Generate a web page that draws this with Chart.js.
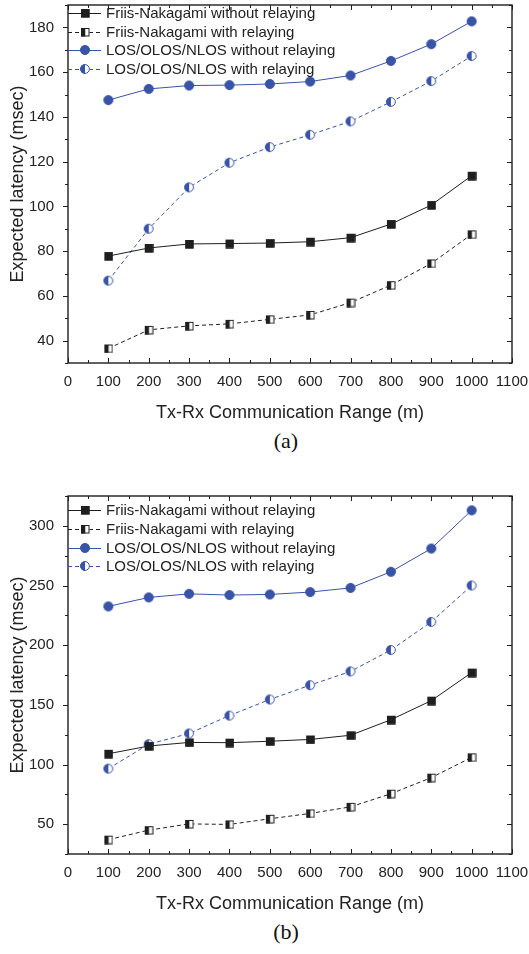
<!DOCTYPE html>
<html>
<head>
<meta charset="utf-8">
<script src="https://cdn.jsdelivr.net/npm/chart.js@4.4.0/dist/chart.umd.min.js"></script>
<style>
  body { margin: 0; background: #fff; width: 529px; height: 954px; position: relative; overflow: hidden; }
  .box { position: absolute; left: 0; width: 529px; height: 426px; }
  .cap { position: absolute; left: 256px; width: 60px; text-align: center; font-family: "Liberation Serif", "Times New Roman", serif; font-size: 22px; line-height: 26px; color: #111; }
</style>
</head>
<body>
<div class="box" style="top:0"><canvas id="chartA" width="529" height="426"></canvas></div>
<div class="cap" style="top:428px">(a)</div>
<div class="box" style="top:491px"><canvas id="chartB" width="529" height="426"></canvas></div>
<div class="cap" style="top:919px">(b)</div>
<script>
// x values (m)
const ranges = [100, 200, 300, 400, 500, 600, 700, 800, 900, 1000];
const labels = [
  "Friis-Nakagami without relaying",
  "Friis-Nakagami with relaying",
  "LOS/OLOS/NLOS without relaying",
  "LOS/OLOS/NLOS with relaying"
];

// (a)
const friisNoRelayA = [77.8, 81.4, 83.2, 83.4, 83.6, 84.2, 86, 92.1, 100.6, 113.7];
const friisRelayA = [36.5, 44.8, 46.6, 47.5, 49.5, 51.5, 57, 64.8, 74.5, 87.5];
const losNoRelayA = [147.5, 152.5, 154, 154.2, 154.7, 155.8, 158.5, 165, 172.5, 182.7];
const losRelayA = [66.8, 90, 108.5, 119.5, 126.5, 132, 138, 146.7, 156, 167.2];

// (b)
const friisNoRelayB = [109, 115.5, 118.5, 118.3, 119.5, 121, 124.5, 137.5, 153.5, 177];
const friisRelayB = [37, 45, 50.2, 49.8, 54.5, 59, 64.5, 75.5, 89, 106];
const losNoRelayB = [232.5, 240, 243, 242, 242.5, 244.5, 248, 261.5, 281, 313];
const losRelayB = [96.5, 117, 126, 141, 154.5, 166.5, 178, 196, 219.5, 250];

// axis ticks
const xMajor = [0, 100, 200, 300, 400, 500, 600, 700, 800, 900, 1000, 1100];
const xMinor = [50, 150, 250, 350, 450, 550, 650, 750, 850, 950, 1050];
const yMajorA = [40, 60, 80, 100, 120, 140, 160, 180];
const yMinorA = [30, 50, 70, 90, 110, 130, 150, 170, 190];
const yMajorB = [50, 100, 150, 200, 250, 300];
const yMinorB = [25, 75, 125, 175, 225, 275, 325];

const BLACK = "#1f1f1f";
const BLUE = "#3953a6";
const FONT = "'Liberation Sans', Arial, sans-serif";

// marker images: square / circle, full or half (left half filled)
function marker(shape, color, half) {
  const c = document.createElement("canvas");
  const s = shape === "square" ? 10 : 12;
  c.width = s; c.height = s;
  const g = c.getContext("2d");
  const m = s / 2;
  g.lineWidth = 1;
  if (shape === "square") {
    const a = 1, w = 8.5;
    g.fillStyle = half ? "#fff" : color;
    g.fillRect(a, a, w, w);
    g.fillStyle = color;
    if (half) g.fillRect(a, a, w / 2, w);
    g.strokeStyle = color;
    g.strokeRect(a + 0.5, a + 0.5, w - 1, w - 1);
  } else {
    const r = 4.8;
    g.beginPath(); g.arc(m, m, r, 0, Math.PI * 2);
    g.fillStyle = half ? "#fff" : color; g.fill();
    if (half) {
      g.beginPath(); g.arc(m, m, r, Math.PI / 2, Math.PI * 1.5); g.closePath();
      g.fillStyle = color; g.fill();
    }
    g.beginPath(); g.arc(m, m, r - 0.4, 0, Math.PI * 2);
    g.strokeStyle = color; g.stroke();
  }
  return c;
}

const styles = [
  { color: BLACK, dash: [], pt: marker("square", BLACK, false) },
  { color: BLACK, dash: [4, 3], pt: marker("square", BLACK, true) },
  { color: BLUE, dash: [], pt: marker("circle", BLUE, false) },
  { color: BLUE, dash: [4, 3], pt: marker("circle", BLUE, true) }
];

// frame + tick marks
const frameTicks = {
  id: "frameTicks",
  afterDraw(chart, args, opts) {
    const { ctx, chartArea: { left, right, top, bottom }, scales: { x, y } } = chart;
    ctx.save();
    ctx.strokeStyle = BLACK;
    ctx.lineWidth = 1.4;
    ctx.strokeRect(left, top, right - left, bottom - top);
    ctx.lineWidth = 1;
    ctx.beginPath();
    const xt = (vals, len) => vals.forEach(v => {
      const p = Math.round(x.getPixelForValue(v)) + 0.5;
      ctx.moveTo(p, bottom); ctx.lineTo(p, bottom - len);
      ctx.moveTo(p, top); ctx.lineTo(p, top + len);
    });
    const yt = (vals, len) => vals.forEach(v => {
      const p = Math.round(y.getPixelForValue(v)) + 0.5;
      ctx.moveTo(left, p); ctx.lineTo(left - len, p);
      ctx.moveTo(right, p); ctx.lineTo(right - len, p);
    });
    xt(xMajor, 5); xt(xMinor, 3);
    yt(opts.yMajor, 5); yt(opts.yMinor, 3);
    ctx.stroke();
    ctx.restore();
  }
};

// legend drawn inside top-left of the plot
const insideLegend = {
  id: "insideLegend",
  afterDraw(chart, args, opts) {
    const { ctx, chartArea: { left } } = chart;
    ctx.save();
    ctx.font = "15px " + FONT;
    ctx.textBaseline = "middle";
    chart.data.datasets.forEach((ds, i) => {
      const yy = opts.rows[i];
      const st = styles[i];
      ctx.strokeStyle = st.color;
      ctx.lineWidth = 1;
      ctx.setLineDash(st.dash);
      ctx.beginPath(); ctx.moveTo(left, yy + 0.5); ctx.lineTo(left + 33, yy + 0.5); ctx.stroke();
      ctx.setLineDash([]);
      ctx.drawImage(st.pt, left + 17 - st.pt.width / 2, yy - st.pt.height / 2);
      ctx.fillStyle = "#222";
      ctx.fillText(ds.label, left + 38, yy + 1);
    });
    ctx.restore();
  }
};

function makeChart(id, series, yMin, yMax, yMajor, yMinor, rows) {
  const datasets = series.map((vals, i) => ({
    label: labels[i],
    data: ranges.map((r, k) => ({ x: r, y: vals[k] })),
    borderColor: styles[i].color,
    borderWidth: 1,
    borderDash: styles[i].dash,
    pointStyle: styles[i].pt,
    pointRadius: 5,
    tension: 0,
    fill: false
  }));
  new Chart(document.getElementById(id).getContext("2d"), {
    type: "line",
    data: { datasets },
    plugins: [frameTicks, insideLegend],
    options: {
      responsive: false,
      animation: false,
      layout: { autoPadding: false, padding: { top: 5, right: 17, left: 0, bottom: 0 } },
      plugins: {
        legend: { display: false },
        tooltip: { enabled: false },
        frameTicks: { yMajor, yMinor },
        insideLegend: { rows }
      },
      scales: {
        x: {
          type: "linear",
          min: 0,
          max: 1100,
          grid: { display: false, drawTicks: false },
          border: { display: false },
          afterBuildTicks: s => { s.ticks = xMajor.map(v => ({ value: v })); },
          afterFit: s => { s.height = 63; s.paddingLeft = 0; s.paddingRight = 0; },
          ticks: { color: "#222", font: { family: FONT, size: 15 }, padding: 10, maxRotation: 0, autoSkip: false, callback: v => String(v) },
          title: { display: true, text: "Tx-Rx Communication Range (m)", color: "#222", font: { family: FONT, size: 18 }, padding: { top: 9, bottom: 2 } }
        },
        y: {
          min: yMin,
          max: yMax,
          grid: { display: false, drawTicks: false },
          border: { display: false },
          afterBuildTicks: s => { s.ticks = yMajor.map(v => ({ value: v })); },
          afterFit: s => { s.width = 68; s.paddingTop = 0; s.paddingBottom = 0; },
          ticks: { color: "#222", font: { family: FONT, size: 15 }, padding: 14, callback: v => String(v) },
          title: { display: true, text: "Expected latency (msec)", color: "#222", font: { family: FONT, size: 18 }, padding: { top: 7, bottom: 0 } }
        }
      }
    }
  });
}

makeChart("chartA", [friisNoRelayA, friisRelayA, losNoRelayA, losRelayA], 30, 190, yMajorA, yMinorA, [13, 32, 50, 69]);
makeChart("chartB", [friisNoRelayB, friisRelayB, losNoRelayB, losRelayB], 25, 325, yMajorB, yMinorB, [19, 38, 57, 75]);
</script>
</body>
</html>
